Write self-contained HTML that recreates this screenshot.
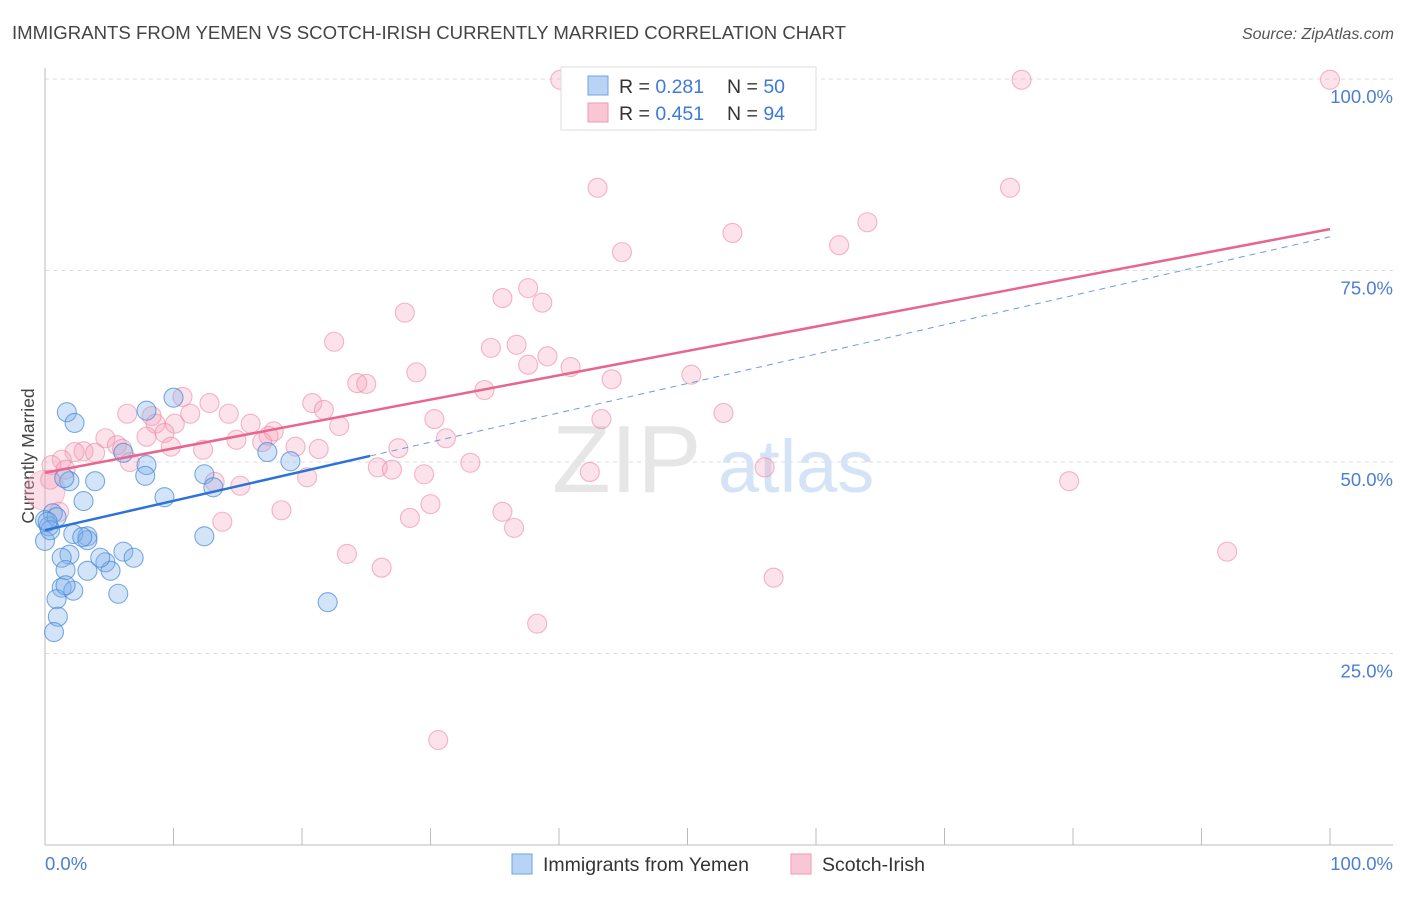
<!DOCTYPE html>
<html><head><meta charset="utf-8"><style>
body{margin:0;background:#fff;font-family:"Liberation Sans",sans-serif;}
svg text{font-family:"Liberation Sans",sans-serif;}
</style></head><body>
<svg id="chart" width="1406" height="892" xmlns="http://www.w3.org/2000/svg">
<text x="12" y="39" font-size="18.6" fill="#444">IMMIGRANTS FROM YEMEN VS SCOTCH-IRISH CURRENTLY MARRIED CORRELATION CHART</text>
<text x="1394" y="39" font-size="16" fill="#555" font-style="italic" text-anchor="end">Source: ZipAtlas.com</text>
<text transform="translate(34,456) rotate(-90)" font-size="17.5" fill="#444" text-anchor="middle">Currently Married</text>
<g id="grid"></g>
<g>
<text x="552" y="492" font-size="96" font-family="Liberation Serif,serif" fill="#e6e6e6">ZIP</text>
<text x="718" y="492" font-size="74" fill="#d4e3f5">atlas</text></g>
<line x1="45" y1="68" x2="45" y2="845" stroke="#bbb"/>
<line x1="45" y1="845" x2="1393" y2="845" stroke="#bbb"/>
<g id="ticks"></g>
<g id="ylabels"></g>
<text x="45" y="870" font-size="18.5" fill="#4a7fd4">0.0%</text>
<text x="1393" y="870" font-size="18.5" fill="#4a7fd4" text-anchor="end">100.0%</text>
<g id="pink"></g>
<g id="blue"></g>
<g id="lines"></g>
<g>
<rect x="561" y="67" width="255" height="63" fill="#fff" stroke="#ddd"/>
<rect x="588" y="76" width="20" height="19" fill="#b8d3f3" stroke="#6fa3e3"/>
<text x="619" y="93" font-size="19.5" fill="#333">R = <tspan fill="#3d7bd6">0.281</tspan></text>
<text x="727" y="93" font-size="19.5" fill="#333">N = <tspan fill="#3d7bd6">50</tspan></text>
<rect x="588" y="103" width="20" height="19" fill="#f9c6d5" stroke="#ee9ab4"/>
<text x="619" y="120" font-size="19.5" fill="#333">R = <tspan fill="#3d7bd6">0.451</tspan></text>
<text x="727" y="120" font-size="19.5" fill="#333">N = <tspan fill="#3d7bd6">94</tspan></text>
</g>
<g>
<rect x="512" y="854" width="20" height="20" fill="#b8d3f3" stroke="#6fa3e3"/>
<text x="543" y="871" font-size="19.5" fill="#333">Immigrants from Yemen</text>
<rect x="791" y="854" width="20" height="20" fill="#f9c6d5" stroke="#ee9ab4"/>
<text x="822" y="871" font-size="19.5" fill="#333">Scotch-Irish</text>
</g>
</svg>
<script>
const yTicks=[25,50,75,100];
const yTickLabels=["25.0%","50.0%","75.0%","100.0%"];
const xTicks=[10,20,30,40,50,60,70,80,90,100];
const blueX=[1.7,2.3,10.0,7.9,0.6,0,0.3,1.9,3.9,3.0,6.1,7.9,7.8,9.3,12.4,13.1,12.4,17.3,19.1,22.0,3.3,2.2,3.3,0.9,1.9,1.3,0,6.1,6.9,4.7,5.1,3.3,1.6,1.3,2.2,0.9,5.7,1.0,0.7,1.5,0.4,1.6,4.3,2.9,0.2];
const blueY=[56.5,55.1,58.4,56.7,43.3,42.4,41.6,47.5,47.5,44.9,51.2,49.6,48.2,45.4,48.4,46.7,40.3,51.3,50.1,31.7,40.3,40.6,39.8,42.8,37.9,37.5,39.7,38.3,37.5,36.9,35.8,35.8,35.9,33.6,33.2,32.1,32.8,29.8,27.8,47.9,41.1,33.9,37.5,40.2,42.2];
const pinkX=[40.1,76.0,100,43.0,75.1,64.0,53.5,61.8,44.9,37.6,35.6,38.7,28.0,22.5,34.7,36.7,39.1,37.6,40.9,28.9,44.1,50.3,24.3,25.0,34.2,10.7,12.8,20.8,6.4,8.3,11.3,14.3,21.7,52.8,43.3,30.3,8.6,10.1,16.0,22.9,9.3,17.8,7.9,4.7,14.9,17.4,16.9,31.2,5.6,19.5,21.3,12.3,9.8,27.5,3.0,2.3,3.9,6.0,6.6,1.3,0.5,1.6,33.1,25.9,27.0,56.0,42.4,29.5,20.4,15.2,0.4,79.7,1.1,30.0,18.4,28.4,35.6,36.5,13.8,23.5,92.0,26.2,56.7,38.3,30.6,13.2];
const pinkY=[99.9,99.9,99.9,85.8,85.8,81.3,79.9,78.3,77.4,72.7,71.4,70.8,69.5,65.7,64.9,65.3,63.8,62.7,62.4,61.7,60.8,61.4,60.3,60.2,59.4,58.5,57.7,57.7,56.3,56.0,56.3,56.3,56.8,56.4,55.6,55.6,55.0,55.0,55.0,54.7,53.8,54.0,53.3,53.1,52.9,53.4,52.6,53.1,52.2,52.0,51.7,51.6,52.0,51.8,51.4,51.3,51.2,51.7,50.0,50.3,49.6,49.0,49.9,49.3,49.0,49.3,48.7,48.4,48.0,46.9,47.7,47.5,43.5,44.5,43.7,42.7,43.5,41.4,42.2,38.0,38.3,36.2,34.9,28.9,13.7,47.4];
const pinkTrend=[48.6,80.4];
const blueTrend=[41.1,79.4];
const blueSolidEnd=25.3;

const NS="http://www.w3.org/2000/svg";
const sx=v=>45+v*12.85;
const sy=v=>845-v*7.66;
function mk(tag,attrs,parent){const e=document.createElementNS(NS,tag);for(const k in attrs)e.setAttribute(k,attrs[k]);parent.appendChild(e);return e;}
const grid=document.getElementById('grid'),yl=document.getElementById('ylabels'),tk=document.getElementById('ticks');
yTicks.forEach((t,i)=>{
  const l=mk('line',{x1:45,x2:1393,y1:sy(t),y2:sy(t),stroke:'#ddd','stroke-dasharray':'4,4'},grid);
  
  
  const tx=mk('text',{x:1393,y:sy(t)+24,'font-size':18.5,fill:'#4a7fd4','text-anchor':'end'},yl);
  tx.textContent=yTickLabels[i];
  
  
});
xTicks.forEach(t=>{
  const l=mk('line',{x1:sx(t),x2:sx(t),y1:828,y2:845,stroke:'#bbb'},tk);
  
  
});
const pg=document.getElementById('pink');
const big=mk('circle',{cx:sx(0),cy:sy(46.3),r:20,fill:'rgba(244,160,185,0.35)',stroke:'rgba(238,140,170,0.5)'},pg);


pinkX.forEach((x,i)=>{
  const c=mk('circle',{cx:sx(x),cy:sy(pinkY[i]),r:9.5,fill:'rgba(244,160,185,0.3)',stroke:'rgba(236,135,165,0.6)','stroke-width':1.1},pg);
  
  
});
const bg=document.getElementById('blue');
blueX.forEach((x,i)=>{
  const c=mk('circle',{cx:sx(x),cy:sy(blueY[i]),r:9.5,fill:'rgba(130,178,235,0.35)',stroke:'rgba(70,135,215,0.7)','stroke-width':1.1},bg);
  
  
});
const lg=document.getElementById('lines');
const bAt=v=>blueTrend[0]+(blueTrend[1]-blueTrend[0])*v/100;
const l1=mk('line',{x1:sx(blueSolidEnd),y1:sy(bAt(blueSolidEnd)),x2:sx(100),y2:sy(blueTrend[1]),stroke:'#6a9be0','stroke-width':1,'stroke-dasharray':'6,5'},lg);


const l2=mk('line',{x1:sx(0),y1:sy(blueTrend[0]),x2:sx(blueSolidEnd),y2:sy(bAt(blueSolidEnd)),stroke:'#2d72d9','stroke-width':2.5},lg);


const l3=mk('line',{x1:sx(0),y1:sy(pinkTrend[0]),x2:sx(100),y2:sy(pinkTrend[1]),stroke:'#e8658e','stroke-width':2.5},lg);


</script>
</body></html>
